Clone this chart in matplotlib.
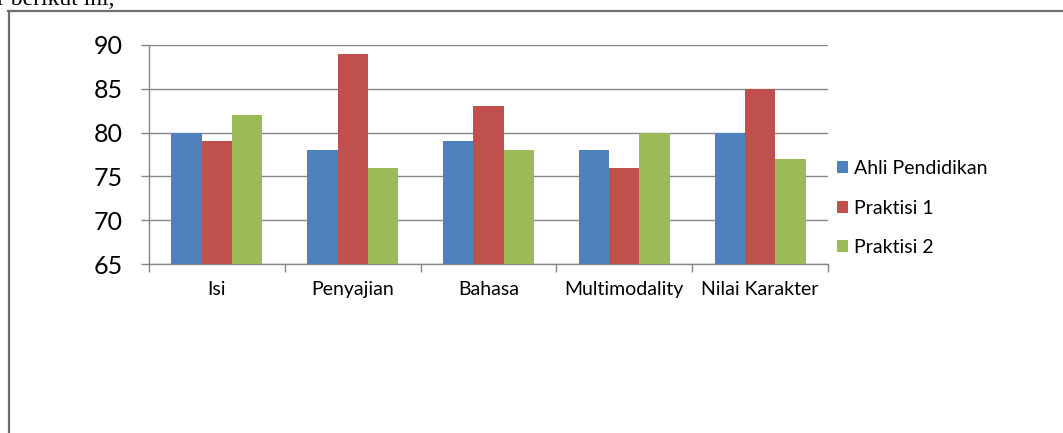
import numpy as np
import matplotlib
matplotlib.use("Agg")
import matplotlib.pyplot as plt
from matplotlib.lines import Line2D

# data
kategori = ["Isi", "Penyajian", "Bahasa", "Multimodality", "Nilai Karakter"]
ahli = [80, 78, 79, 78, 80]
praktisi1 = [79, 89, 83, 76, 85]
praktisi2 = [82, 76, 78, 80, 77]
seri = ["Ahli Pendidikan", "Praktisi 1", "Praktisi 2"]
warna = ["#4F81BD", "#C0504D", "#9BBB59"]

plt.rcParams['font.family'] = ['Lato', 'DejaVu Sans']

fig = plt.figure(figsize=(10.63, 4.33), dpi=100)
ax = fig.add_axes([149/1063, 169/433, 679/1063, 219/433])

x = np.arange(len(kategori))
lebar = 0.223
for k, (nilai, w, nama) in enumerate(zip([ahli, praktisi1, praktisi2], warna, seri)):
    ax.bar(x + (k - 1)*lebar, nilai, lebar, color=w, label=nama, zorder=3)

ax.set_ylim(65, 90)
ax.set_xlim(-0.5, len(kategori) - 0.5)
ax.set_yticks(range(65, 91, 5))
ax.grid(axis='y', color='#868686', linewidth=1.0, zorder=0)

ax.set_xticks(x)
ax.set_xticklabels(kategori)
ax.set_xticks(np.arange(-0.5, len(kategori)), minor=True)
ax.tick_params(axis='x', which='major', length=0, pad=12, labelsize=14)
ax.tick_params(axis='x', which='minor', length=6, color='#868686', width=1.0, direction='out')
ax.tick_params(axis='y', length=6, color='#868686', width=1.0, pad=13, labelsize=18)

for s in ['top', 'right']:
    ax.spines[s].set_visible(False)
for s in ['left', 'bottom']:
    ax.spines[s].set_color('#868686')
    ax.spines[s].set_linewidth(1.0)

fig.legend(loc='center left', bbox_to_anchor=(837/1063, 1 - 208/433),
           frameon=False, fontsize=14, handlelength=0.57, handleheight=0.57,
           handletextpad=0.3, labelspacing=1.16, borderpad=0, borderaxespad=0)

# frame of the chart object and the cut off sentence above it
fig.add_artist(Line2D([8/1063, 1], [1 - 11/433, 1 - 11/433], color='#6e6e6e', linewidth=1.6))
fig.add_artist(Line2D([9/1063, 9/1063], [0, 1 - 11/433], color='#6e6e6e', linewidth=1.6))
fig.text(-3/1063, 1 - 5/433, "r berikut ini,", family='Liberation Serif', fontsize=17,
         va='baseline', ha='left')

fig.savefig("out.png", dpi=100)
